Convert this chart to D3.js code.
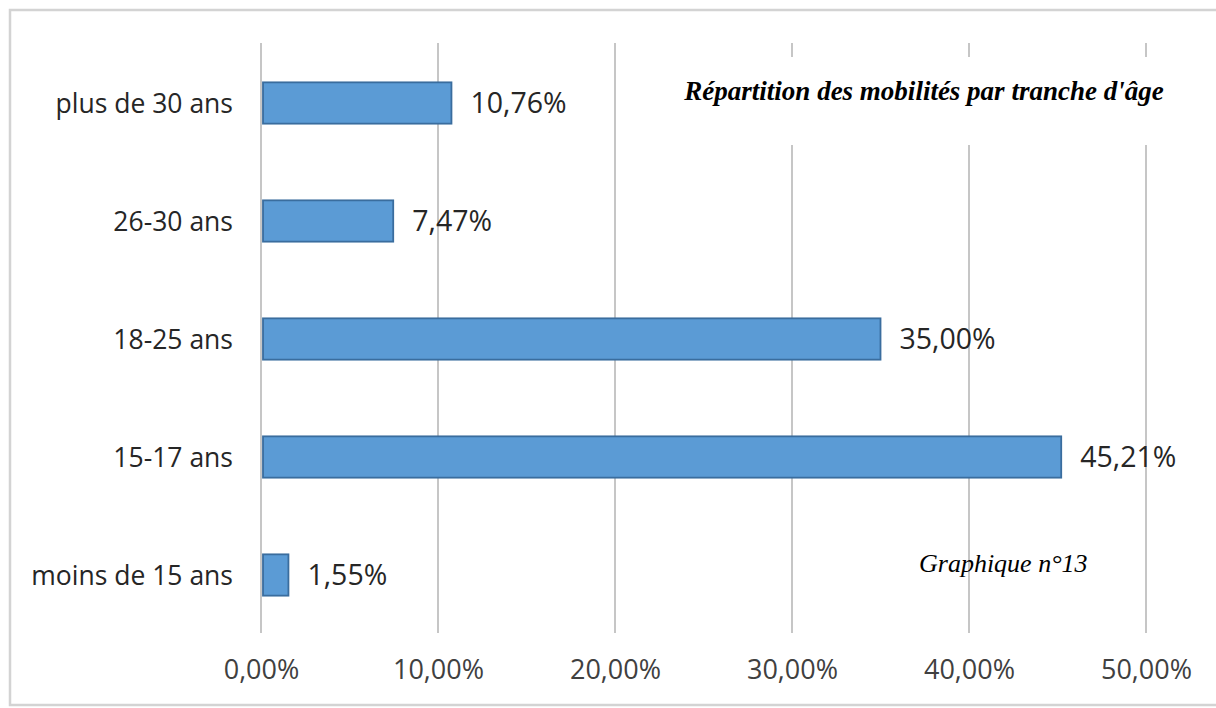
<!DOCTYPE html>
<html lang="fr">
<head>
<meta charset="utf-8">
<script src="https://cdn.jsdelivr.net/npm/d3@7"></script>
<style>
  html, body { margin: 0; padding: 0; background: #fff; }
  svg { display: block; }
</style>
</head>
<body>
<svg id="chart" width="1216" height="708"></svg>
<script>
// Tranches d'âge (de haut en bas) et part des mobilités
const categories = ["plus de 30 ans", "26-30 ans", "18-25 ans", "15-17 ans", "moins de 15 ans"];
const values = [10.76, 7.47, 35.00, 45.21, 1.55];
const tickValues = [0, 10, 20, 30, 40, 50];
const title = "Répartition des mobilités par tranche d'âge";
const subtitle = "Graphique n°13";

const svg = d3.select("#chart");
const W = 1216, H = 708;
const labelFont = "'Open Sans', 'Noto Sans', sans-serif";
const serifFont = "'Liberation Serif', 'DejaVu Serif', serif";
const fmt = v => v.toFixed(2).replace(".", ",") + "%";

// Cadre du graphique
svg.append("rect")
  .attr("x", 10).attr("y", 10)
  .attr("width", W - 8).attr("height", H - 13)
  .attr("fill", "#fff")
  .attr("stroke", "#d3d3d3").attr("stroke-width", 2.5);

const x = d3.scaleLinear().domain([0, 50]).range([261, 1146]);
const y = d3.scaleBand().domain(categories).range([44, 634]).paddingInner(0.65).paddingOuter(0.325);

// Quadrillage vertical
const gridTop = 43, gridBottom = 633;
svg.append("g")
  .selectAll("line")
  .data(tickValues)
  .join("line")
  .attr("x1", d => x(d)).attr("x2", d => x(d))
  .attr("y1", gridTop).attr("y2", gridBottom)
  .attr("stroke", "#c6c6c6").attr("stroke-width", 2);

// Axe des abscisses (libellés seuls)
const xAxis = d3.axisBottom(x).tickValues(tickValues).tickFormat(fmt).tickSize(0).tickPadding(0);
const gx = svg.append("g").attr("transform", `translate(0, 660)`).call(xAxis);
gx.select(".domain").remove();
gx.selectAll("text")
  .attr("dy", "0.71em")
  .attr("fill", "#404040")
  .style("font-family", labelFont)
  .style("font-size", "27px");

// Axe des ordonnées (catégories)
const yAxis = d3.axisLeft(y).tickSize(0).tickPadding(0);
const gy = svg.append("g").attr("transform", `translate(233, 0)`).call(yAxis);
gy.select(".domain").remove();
gy.selectAll("text")
  .attr("dy", "0.36em")
  .attr("fill", "#262626")
  .style("font-family", labelFont)
  .style("font-size", "26.5px");

// Bloc titre sur fond blanc
svg.append("rect")
  .attr("x", 680).attr("y", 57).attr("width", 496).attr("height", 88)
  .attr("fill", "#fff");
svg.append("text")
  .attr("x", 924).attr("y", 100)
  .attr("text-anchor", "middle")
  .attr("fill", "#000")
  .style("font-family", serifFont)
  .style("font-size", "27px")
  .style("font-weight", "bold")
  .style("font-style", "italic")
  .text(title);

// Barres
const data = categories.map((c, i) => ({ cat: c, val: values[i] }));
svg.append("g")
  .selectAll("rect")
  .data(data)
  .join("rect")
  .attr("x", x(0) + 2)
  .attr("y", d => y(d.cat))
  .attr("width", d => x(d.val) - x(0) - 2)
  .attr("height", y.bandwidth())
  .attr("fill", "#5b9bd5")
  .attr("stroke", "#3a6d9e").attr("stroke-width", 1.8);

// Étiquettes de valeurs
svg.append("g")
  .selectAll("text")
  .data(data)
  .join("text")
  .attr("x", d => x(d.val) + 19)
  .attr("y", d => y(d.cat) + y.bandwidth() / 2)
  .attr("dy", "0.36em")
  .attr("fill", "#262626")
  .style("font-family", labelFont)
  .style("font-size", "28.5px")
  .text(d => fmt(d.val));

// Numéro du graphique
svg.append("text")
  .attr("x", 919).attr("y", 572)
  .attr("fill", "#000")
  .style("font-family", serifFont)
  .style("font-size", "26px")
  .style("font-style", "italic")
  .text(subtitle);
</script>
</body>
</html>
